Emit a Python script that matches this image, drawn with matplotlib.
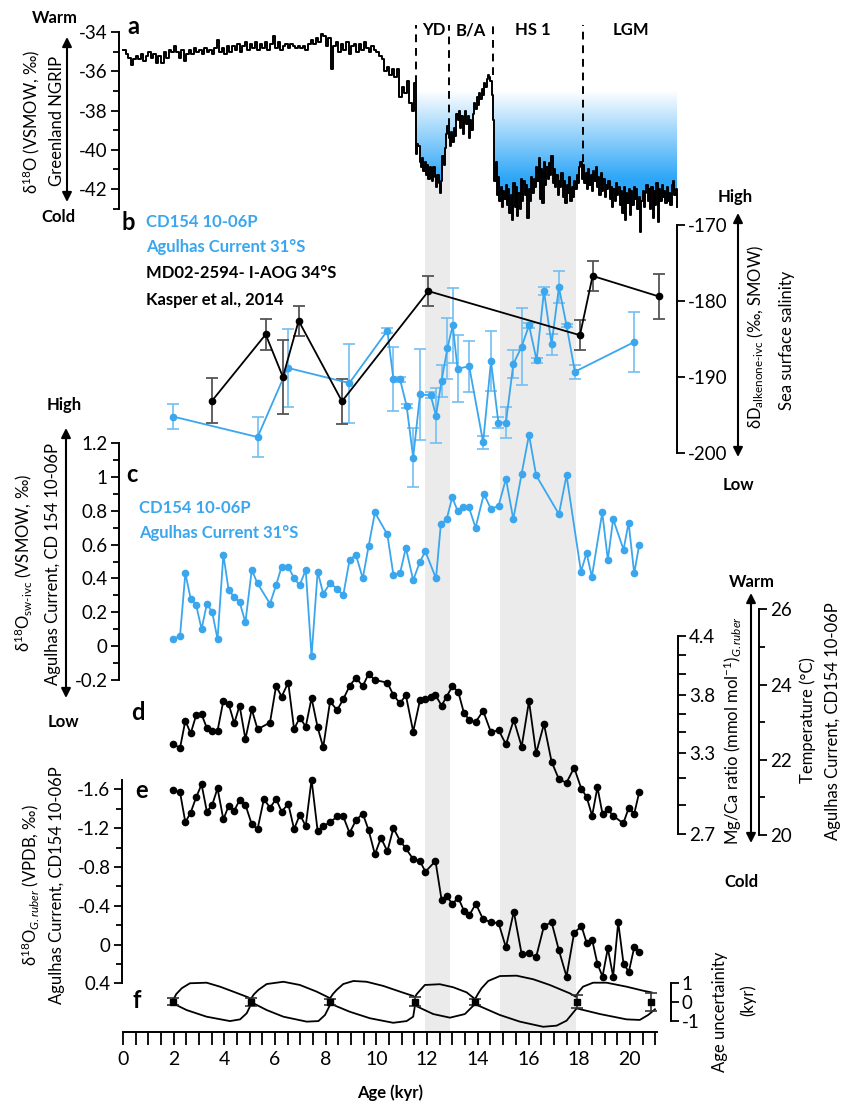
import numpy as np
import matplotlib
matplotlib.use("Agg")
import matplotlib.pyplot as plt
from matplotlib.colors import LinearSegmentedColormap
from matplotlib.patches import FancyArrowPatch
from matplotlib.ticker import FixedLocator, FuncFormatter, MultipleLocator

plt.rcParams['font.family'] = ['Lato', 'DejaVu Sans']
plt.rcParams['mathtext.fontset'] = 'custom'
plt.rcParams['mathtext.rm'] = 'Lato'
plt.rcParams['mathtext.it'] = 'Lato:italic'
plt.rcParams['mathtext.bf'] = 'Lato:bold'
plt.rcParams['axes.unicode_minus'] = False
plt.rcParams['font.size'] = 12

BLUE = '#3aa6ee'
BLUE_ERR = '#72bff2'
GREY = '#ebebeb'

# ---------------- data ----------------
# (a) NGRIP d18O, 0-11.5 kyr every 0.1 kyr, then 11.55-21.85 kyr every 0.05 kyr
ngrip_early = [
    -34.9, -35.1, -35.3, -35.7, -35.4, -35.2, -35.4, -35.1, -35.5, -35.2,
    -35.0, -35.3, -35.1, -35.6, -35.2, -35.6, -35.0, -35.3, -34.9, -35.0,
    -34.7, -35.0, -35.3, -34.9, -35.5, -35.1, -34.9, -35.1, -34.8, -35.0,
    -34.9, -35.1, -34.8, -35.0, -34.9, -35.1, -34.8, -34.4, -35.0, -34.8,
    -35.1, -34.7, -35.0, -34.7, -34.9, -34.6, -35.0, -34.7, -34.5, -34.9,
    -34.6, -34.8, -34.5, -34.9, -34.6, -34.8, -34.5, -34.9, -34.6, -34.2,
    -34.8, -34.5, -34.9, -34.7, -34.6, -34.8, -34.6, -34.7, -34.8, -34.7,
    -34.8, -34.7, -34.9, -34.6, -34.4, -34.6, -34.3, -34.5, -34.1, -34.2,
    -34.7, -34.3, -35.9, -34.7, -34.5, -35.0, -34.6, -34.9, -34.5, -35.1,
    -34.7, -34.6, -35.0, -34.6, -34.9, -34.5, -34.8, -35.0, -34.7, -34.9,
    -35.0, -35.2, -35.4, -36.0, -35.8, -36.2, -35.9, -36.3, -35.9, -37.3,
    -36.8, -37.1, -36.5, -37.6, -38.0, -36.6]
ngrip_late = [
    # Younger Dryas
    -40.2, -39.7, -39.8, -40.6, -40.9, -40.4, -41.1, -40.6, -41.3, -40.8,
    -41.5, -40.9, -41.2, -41.6, -40.9, -41.4, -41.9, -41.3, -41.7, -42.2,
    -41.6, -40.3, -40.8, -39.9, -39.2, -38.8,
    # Bolling/Allerod
    -39.4, -39.8, -39.1, -39.6, -38.9, -39.3, -38.2, -38.5, -38.0, -38.9,
    -38.3, -39.2, -38.4, -38.0, -38.7, -38.3, -39.4, -38.5, -39.0, -38.2,
    -37.6, -37.9, -37.3, -37.7, -37.1, -37.4, -36.9, -37.2, -36.6, -36.8,
    -36.4, -36.2, -36.3, -36.5, -37.2, -38.5, -41.6,
    # HS1 and LGM
    -40.6, -42.3, -41.4, -42.6, -41.9, -42.9, -42.1, -42.5, -41.8, -42.8,
    -42.0, -43.2, -42.3, -43.6, -41.7, -42.9, -41.9, -43.4, -42.2, -43.0,
    -41.5, -42.6, -41.6, -42.3, -41.8, -43.5, -42.0, -42.6, -41.4, -42.2,
    -41.5, -41.9, -40.9, -41.6, -40.4, -42.5, -41.0, -42.7, -40.6, -41.8,
    -40.9, -41.5, -40.7, -41.3, -40.3, -41.7, -41.0, -41.9, -41.3, -42.3,
    -41.6, -41.9, -41.2, -42.4, -41.6, -42.7, -41.8, -42.2, -41.4, -42.6,
    -41.9, -42.4, -41.6, -42.0, -41.3, -41.7, -40.9, -40.6, -41.5, -40.8,
    -41.7, -41.2, -42.0, -41.0, -41.8, -41.3, -42.1, -41.1, -41.6, -40.9,
    -41.9, -41.4, -42.3, -41.2, -42.1, -41.5, -42.4, -41.8, -42.0, -41.6,
    -42.5, -41.9, -42.9, -42.0, -42.6, -41.7, -42.3, -41.9, -42.8, -42.1,
    -43.2, -41.9, -43.6, -42.2, -42.7, -42.0, -43.3, -42.1, -42.8, -41.9,
    -42.5, -42.0, -43.0, -42.4, -44.2, -42.6, -42.1, -42.9, -42.2, -41.8,
    -42.6, -42.0, -43.0, -41.9, -43.5, -42.1, -42.8, -41.7, -43.7, -42.0,
    -42.6, -41.8, -42.4, -42.1, -42.7, -41.9, -42.6, -42.2, -42.8, -41.8,
    -41.6, -42.3, -42.0, -42.9]
ngrip_age = np.concatenate([np.arange(len(ngrip_early)) * 0.1,
                            11.55 + np.arange(len(ngrip_late)) * 0.05])
ngrip_val = np.array(ngrip_early + ngrip_late)

period_bounds = [11.56, 12.86, 14.6, 18.15]
period_names = ['YD', 'B/A', 'HS 1', 'LGM']
period_label_x = [12.27, 13.73, 16.17, 20.04]
band_start = [11.9, 14.87]
band_end = [12.9, 17.87]

# (b) dD alkenone
kasper_age = [3.52, 5.63, 6.31, 6.93, 8.64, 12.05, 18.03, 18.53, 21.14]
kasper_dd = [-193.1, -184.4, -190.0, -182.6, -193.2, -178.7, -184.5, -176.7, -179.4]
kasper_err = [3.0, 2.0, 4.9, 2.0, 3.0, 2.0, 2.0, 2.0, 3.0]

cd_dd_age = [1.97, 5.31, 6.50, 8.93, 10.43, 10.67, 10.93, 11.19, 11.45, 11.72,
             12.14, 12.35, 12.57, 12.80, 13.01, 13.20, 13.66, 14.21, 14.52, 14.81,
             15.11, 15.40, 15.73, 16.02, 16.32, 16.61, 16.91, 17.20, 17.50, 17.83,
             20.17]
cd_dd = [-195.2, -197.9, -188.8, -190.8, -183.9, -190.3, -190.3, -193.8, -200.6, -192.3,
         -192.4, -195.1, -190.5, -186.2, -183.2, -188.9, -188.6, -198.6, -187.9, -196.0,
         -196.0, -188.3, -186.0, -183.2, -187.8, -178.7, -185.7, -178.2, -183.2, -189.3,
         -185.4]
cd_dd_err = [1.7, 2.6, 5.1, 5.2, 0.3, 4.2, 0.3, 0.3, 3.9, 6.0,
             0.4, 3.6, 2.1, 4.0, 4.9, 4.4, 3.4, 0.9, 3.9, 0.7,
             2.0, 1.8, 5.1, 0.3, 0.35, 0.55, 1.4, 2.1, 0.2, 0.9,
             4.0]

# (c) d18O seawater
c_age = [1.98, 2.25, 2.46, 2.67, 2.89, 3.10, 3.31, 3.52, 3.73, 3.96,
         4.17, 4.39, 4.60, 4.83, 5.08, 5.31, 5.80, 6.04, 6.26, 6.52,
         6.75, 6.97, 7.21, 7.44, 7.68, 7.90, 8.17, 8.45, 8.69, 8.94,
         9.19, 9.46, 9.69, 9.94, 10.43, 10.67, 10.93, 11.16, 11.45, 11.72,
         11.93, 12.35, 12.54, 12.77, 12.99, 13.20, 13.42, 13.65, 13.91, 14.24,
         14.52, 14.82, 15.11, 15.40, 15.73, 16.02, 16.30, 17.20, 17.50, 18.07,
         18.29, 18.50, 18.91, 19.13, 19.34, 19.75, 19.95, 20.17, 20.37]
c_val = [0.04, 0.06, 0.43, 0.28, 0.24, 0.10, 0.25, 0.20, 0.04, 0.54,
         0.33, 0.29, 0.26, 0.14, 0.45, 0.37, 0.25, 0.36, 0.47, 0.47,
         0.40, 0.36, 0.45, -0.06, 0.44, 0.31, 0.37, 0.34, 0.30, 0.51,
         0.54, 0.40, 0.59, 0.79, 0.66, 0.42, 0.43, 0.58, 0.39, 0.50,
         0.56, 0.40, 0.72, 0.75, 0.88, 0.80, 0.82, 0.82, 0.70, 0.90,
         0.81, 0.83, 0.99, 0.75, 1.02, 1.25, 1.01, 0.78, 1.01, 0.44,
         0.55, 0.41, 0.79, 0.51, 0.75, 0.57, 0.73, 0.43, 0.60]

# (d) Mg/Ca temperature
d_age = [1.98, 2.25, 2.46, 2.67, 2.89, 3.10, 3.31, 3.52, 3.73, 3.96,
         4.17, 4.39, 4.60, 4.83, 5.08, 5.31, 5.80, 6.04, 6.26, 6.52,
         6.75, 6.98, 7.21, 7.44, 7.68, 7.90, 8.17, 8.45, 8.69, 8.94,
         9.19, 9.46, 9.69, 9.94, 10.43, 10.67, 10.93, 11.16, 11.45, 11.72,
         11.93, 12.14, 12.33, 12.57, 12.77, 13.00, 13.23, 13.45, 13.66, 13.91,
         14.21, 14.52, 14.82, 15.11, 15.42, 15.73, 16.02, 16.30, 16.61, 16.91,
         17.20, 17.50, 17.80, 18.09, 18.29, 18.51, 18.72, 18.92, 19.13, 19.34,
         19.74, 19.96, 20.17, 20.37]
d_temp = [22.42, 22.31, 23.04, 22.70, 23.19, 23.21, 22.84, 22.77, 22.77, 23.57,
          23.48, 22.97, 23.44, 22.55, 23.34, 22.81, 22.99, 23.96, 23.68, 24.05,
          22.82, 23.12, 22.88, 23.64, 22.86, 22.33, 23.55, 23.32, 23.61, 23.96,
          24.18, 23.96, 24.28, 24.12, 24.05, 23.72, 23.50, 23.72, 22.75, 23.59,
          23.61, 23.68, 23.72, 23.44, 23.68, 23.96, 23.80, 23.25, 23.06, 23.00,
          23.30, 22.73, 22.79, 22.41, 23.06, 22.35, 23.56, 22.17, 22.95, 21.95,
          21.48, 21.39, 21.79, 21.22, 21.02, 20.51, 21.27, 20.56, 20.68, 20.51,
          20.31, 20.73, 20.56, 21.14]

# (e) d18O G. ruber
e_age = [1.98, 2.25, 2.46, 2.67, 2.89, 3.10, 3.31, 3.52, 3.73, 3.96,
         4.17, 4.39, 4.60, 4.83, 5.08, 5.31, 5.56, 5.80, 6.04, 6.26,
         6.52, 6.75, 6.98, 7.21, 7.44, 7.68, 7.90, 8.17, 8.45, 8.69,
         8.94, 9.19, 9.46, 9.69, 9.94, 10.18, 10.43, 10.67, 10.93, 11.16,
         11.45, 11.72, 11.93, 12.33, 12.57, 12.77, 12.99, 13.23, 13.45, 13.66,
         13.92, 14.21, 14.52, 14.82, 15.11, 15.42, 15.73, 16.02, 16.30, 16.61,
         16.91, 17.20, 17.50, 17.80, 18.09, 18.29, 18.51, 18.72, 18.92, 19.13,
         19.34, 19.54, 19.75, 19.96, 20.17, 20.37]
e_val = [-1.59, -1.57, -1.26, -1.36, -1.52, -1.65, -1.37, -1.44, -1.61, -1.29,
         -1.43, -1.38, -1.49, -1.44, -1.24, -1.19, -1.50, -1.41, -1.50, -1.37,
         -1.45, -1.19, -1.34, -1.22, -1.70, -1.17, -1.22, -1.26, -1.32, -1.32,
         -1.15, -1.28, -1.35, -1.18, -0.93, -1.10, -0.96, -1.20, -1.07, -0.99,
         -0.88, -0.86, -0.75, -0.86, -0.46, -0.50, -0.42, -0.48, -0.35, -0.30,
         -0.42, -0.26, -0.23, -0.22, 0.03, -0.34, 0.10, 0.09, 0.13, -0.19,
         -0.23, 0.06, 0.33, -0.12, -0.19, -0.02, -0.05, 0.20, 0.33, 0.04,
         0.33, -0.23, 0.20, 0.28, 0.03, 0.08]

# (f) age model tie points and uncertainty envelope
f_age = [1.96, 5.04, 8.17, 11.52, 13.89, 17.90, 20.85]
f_err = [0.17, 0.22, 0.16, 0.24, 0.16, 0.35, 0.47]
env_up_age = [1.96, 2.10, 2.32, 2.64, 3.30, 3.83, 4.35, 4.94, 5.04, 5.16, 5.34, 5.67,
              6.33, 6.98, 7.64, 8.10, 8.17, 8.28, 8.43, 8.69, 9.09, 9.61, 10.27,
              10.93, 11.45, 11.52, 11.59, 11.91, 12.50, 13.03, 13.56, 13.85, 13.89,
              14.00, 14.15, 14.41, 14.87, 15.53, 16.19, 16.84, 17.63, 17.87, 17.90,
              18.00, 18.15, 18.55, 19.08, 19.87, 20.52, 20.85]
env_up = [0.04, 0.40, 0.71, 0.97, 1.00, 0.79, 0.53, 0.23, 0.13, 0.38, 0.62, 0.93,
          1.05, 0.88, 0.53, 0.23, 0.18, 0.40, 0.62, 0.93, 1.09, 1.05, 0.83,
          0.53, 0.30, 0.24, 0.40, 0.88, 0.92, 0.76, 0.49, 0.18, 0.13,
          0.40, 0.71, 1.09, 1.35, 1.37, 1.18, 0.88, 0.44, 0.26, 0.36,
          0.55, 0.79, 1.00, 1.00, 0.79, 0.58, 0.49]
env_lo_age = [1.96, 2.51, 3.30, 4.22, 4.62, 4.88, 5.04, 5.14, 5.67, 6.33, 7.25, 7.71,
              7.97, 8.17, 8.30, 8.95, 9.74, 10.66, 11.19, 11.45, 11.52, 12.24, 12.90,
              13.49, 13.89, 13.96, 14.87, 15.66, 16.58, 17.11, 17.50, 17.90, 18.82,
              19.87, 20.39, 20.72, 20.99]
env_lo = [-0.08, -0.44, -0.79, -1.02, -0.93, -0.61, -0.17, -0.08, -0.44, -0.79, -1.05, -1.02,
          -0.70, -0.17, -0.17, -0.53, -0.87, -1.11, -1.02, -0.79, -0.20, -0.65, -0.84,
          -0.65, -0.12, -0.17, -0.70, -1.05, -1.32, -1.26, -1.00, -0.35, -0.65,
          -0.93, -0.96, -0.70, -0.40]

# ---------------- layout helpers (pixel based) ----------------
W, H = 845, 1105
X0, X1, XMAX = 123, 657, 21.07

fig = plt.figure(figsize=(W / 100, H / 100), dpi=100)


def fx(x):
    return x / W


def fy(y):
    return 1 - y / H


def panel(top, bottom, right=X1):
    xmax = XMAX * (right - X0) / (X1 - X0)
    ax = fig.add_axes([fx(X0), fy(bottom), (right - X0) / W, (bottom - top) / H])
    ax.set_xlim(0, xmax)
    ax.patch.set_visible(False)
    for s in ax.spines.values():
        s.set_visible(False)
    ax.tick_params(axis='x', which='both', bottom=False, labelbottom=False)
    ax.tick_params(axis='y', which='both', left=False, labelleft=False)
    return ax


def fit_y(ax, top, bottom, v1, p1, v2, p2):
    k = (v2 - v1) / (p2 - p1)
    ax.set_ylim(v1 + (bottom - p1) * k, v1 + (top - p1) * k)


def style_y(ax, side, pos, bounds, major, minor):
    sp = ax.spines[side]
    sp.set_visible(True)
    sp.set_position(pos)
    sp.set_bounds(*bounds)
    sp.set_linewidth(1.4)
    ax.yaxis.set_ticks_position(side)
    ax.yaxis.set_major_locator(FixedLocator(major))
    ax.yaxis.set_minor_locator(FixedLocator(minor))
    ax.yaxis.set_major_formatter(FuncFormatter(lambda v, p: f'{v:g}'))
    ax.tick_params(axis='y', which='both', direction='out', width=1.3,
                   labelsize=13.5, pad=2, **{side: True, 'label' + side: True})
    ax.tick_params(axis='y', which='major', length=6)
    ax.tick_params(axis='y', which='minor', length=4)


def ftext(x, y, s, **kw):
    kw.setdefault('ha', 'center')
    kw.setdefault('va', 'center')
    fig.text(fx(x), fy(y), s, **kw)


def farrow(x, y0, y1):
    fig.add_artist(FancyArrowPatch((fx(x), fy(y0)), (fx(x), fy(y1)),
                                   transform=fig.transFigure, arrowstyle='<|-|>',
                                   mutation_scale=14, lw=1.5, color='k',
                                   shrinkA=0, shrinkB=0))


def no_clip(ax):
    for art in ax.lines + list(ax.collections):
        art.set_clip_on(False)


# ---------------- grey bands (YD and HS1) ----------------
ax_bg = panel(0, 1032)
ax_bg.set_ylim(0, 1)
for s, e in zip(band_start, band_end):
    ax_bg.axvspan(s, e, ymin=0, ymax=(1032 - 120) / 1032, color=GREY, lw=0)

# ---------------- (a) NGRIP ----------------
ax_a = panel(20, 240, right=680)
xmax_a = ax_a.get_xlim()[1]
late = ngrip_age >= 11.55
xa, ya = ngrip_age[late], ngrip_val[late]
clip_poly = ax_a.fill_between(xa, np.minimum(ya, -37), -37, step='post',
                              facecolor='none', edgecolor='none')
fill_cmap = LinearSegmentedColormap.from_list('fill', ['#ffffff', '#2ea6f7'])
level = np.linspace(-37, -44.6, 300)
shade = np.clip((-37 - level) / 4.5, 0, 1).reshape(-1, 1)
im = ax_a.imshow(shade, extent=[xa[0], xa[-1], -44.6, -37], origin='upper',
                 aspect='auto', cmap=fill_cmap, vmin=0, vmax=1, zorder=1)
im.set_clip_path(clip_poly.get_paths()[0], transform=ax_a.transData)
ax_a.plot(ngrip_age, ngrip_val, drawstyle='steps-post', color='k', lw=1.4,
          zorder=3, clip_on=False)
ax_a.set_xlim(0, xmax_a)
fit_y(ax_a, 20, 240, -34, 32, -42, 189)
for b in period_bounds:
    win = (ngrip_age > b - 0.25) & (ngrip_age <= b)
    ax_a.plot([b, b], [ngrip_val[win].max(), -33.64], color='k', lw=1.4,
              ls=(0, (4, 3)), zorder=4)
for x, name in zip(period_label_x, period_names):
    ax_a.text(x, -33.9, name, ha='center', va='center', fontweight='bold', fontsize=12)
style_y(ax_a, 'left', ('outward', 3), (-43, -34),
        [-42, -40, -38, -36, -34], [-43, -41, -39, -37, -35])

# ---------------- (b) dD alkenone ----------------
ax_b = panel(205, 495)
ax_b.errorbar(cd_dd_age, cd_dd, yerr=cd_dd_err, fmt='-o', color=BLUE, ms=4.5, lw=1.3,
              ecolor=BLUE_ERR, elinewidth=1.2, capsize=4, capthick=1.2)
ax_b.errorbar(kasper_age, kasper_dd, yerr=kasper_err, fmt='-o', color='k', ms=4.5, lw=1.3,
              ecolor='#555555', elinewidth=1.3, capsize=4, capthick=1.3)
no_clip(ax_b)
fit_y(ax_b, 205, 495, -170, 225, -200, 453)
style_y(ax_b, 'right', ('axes', (677 - X0) / (X1 - X0)), (-200, -170),
        [-200, -190, -180, -170], [])

# ---------------- (c) d18O sw ----------------
ax_c = panel(420, 700)
ax_c.plot(c_age, c_val, '-o', color=BLUE, ms=4.5, lw=1.3, clip_on=False)
fit_y(ax_c, 420, 700, 0, 646, 1.2, 443.2)
style_y(ax_c, 'left', ('outward', 3), (-0.2, 1.2),
        [-0.2, 0, 0.2, 0.4, 0.6, 0.8, 1.0, 1.2],
        [-0.1, 0.1, 0.3, 0.5, 0.7, 0.9, 1.1])

# ---------------- (d) Mg/Ca temperature ----------------
ax_d = panel(585, 860)
ax_d.plot(d_age, d_temp, '-o', color='k', ms=4.5, lw=1.3, clip_on=False)
fit_y(ax_d, 585, 860, 20, 835, 26, 609.3)
style_y(ax_d, 'right', ('axes', (759 - X0) / (X1 - X0)), (20, 26),
        [20, 22, 24, 26], [21, 23, 25])


def temp_to_mgca(t):
    return 0.4237 * np.exp(0.0925 * np.asarray(t))


def mgca_to_temp(m):
    return np.log(np.clip(np.asarray(m), 1e-6, None) / 0.4237) / 0.0925


sec = ax_d.secondary_yaxis((678 - X0) / (X1 - X0), functions=(temp_to_mgca, mgca_to_temp))
sec.yaxis.set_major_locator(FixedLocator([2.7, 3.3, 3.8, 4.4]))
sec.yaxis.set_minor_locator(FixedLocator([2.9, 3.1, 3.47, 3.63, 4.0, 4.2]))
sec.yaxis.set_major_formatter(FuncFormatter(lambda v, p: f'{v:g}'))
sec.spines['right'].set_bounds(2.7, 4.4)
sec.spines['right'].set_linewidth(1.4)
sec.tick_params(axis='y', which='both', direction='out', width=1.3, labelsize=13.5, pad=2)
sec.tick_params(axis='y', which='major', length=6)
sec.tick_params(axis='y', which='minor', length=6)

# ---------------- (e) d18O G. ruber ----------------
ax_e = panel(770, 990)
ax_e.plot(e_age, e_val, '-o', color='k', ms=4.5, lw=1.3, clip_on=False)
fit_y(ax_e, 770, 990, -1.6, 789.3, 0.4, 983.3)
style_y(ax_e, 'left', ('outward', 1), (-1.7, 0.4),
        [-1.6, -1.2, -0.8, -0.4, 0, 0.4], [-1.4, -1.0, -0.6, -0.2, 0.2])

# ---------------- (f) age uncertainty + x axis ----------------
ax_f = panel(965, 1032)
ax_f.plot(env_up_age, env_up, color='k', lw=1.3, clip_on=False)
ax_f.plot(env_lo_age, env_lo, color='k', lw=1.3, clip_on=False)
ax_f.errorbar(f_age, np.zeros(len(f_age)), yerr=f_err, fmt='s', color='k', ms=4.5,
              ecolor='#333333', elinewidth=1.2, capsize=4, capthick=1.2)
no_clip(ax_f)
fit_y(ax_f, 965, 1032, 0, 1001.7, 1, 982.7)
style_y(ax_f, 'right', ('axes', (670.7 - X0) / (X1 - X0)), (-1, 1), [-1, 0, 1], [])
ax_f.spines['bottom'].set_visible(True)
ax_f.spines['bottom'].set_linewidth(1.4)
ax_f.xaxis.set_major_locator(MultipleLocator(2))
ax_f.xaxis.set_minor_locator(MultipleLocator(0.5))
ax_f.tick_params(axis='x', which='both', bottom=True, labelbottom=True, direction='out',
                 length=9, width=1.3, labelsize=14, pad=5)

# ---------------- texts and arrows ----------------
bold = dict(fontweight='bold', fontsize=12)
ftext(55, 18, 'Warm', **bold)
ftext(58, 217, 'Cold', **bold)
farrow(67, 37, 202)
ftext(31, 122, 'δ$^{18}$O (VSMOW, ‰)', rotation=90, fontsize=12)
ftext(57, 121, 'Greenland NGRIP', rotation=90, fontsize=12)

ftext(735, 197, 'High', **bold)
ftext(738, 485, 'Low', **bold)
farrow(738, 213, 457)
ftext(756, 337, 'δD$_{\\mathrm{alkenone}\\text{-}\\mathrm{ivc}}$ (‰, SMOW)', rotation=90, fontsize=12)
ftext(787, 340, 'Sea surface salinity', rotation=90, fontsize=12)

ftext(146, 222, 'CD154 10-06P', ha='left', color=BLUE, **bold)
ftext(146, 247, 'Agulhas Current 31°S', ha='left', color=BLUE, **bold)
ftext(146, 273, 'MD02-2594- I-AOG 34°S', ha='left', **bold)
ftext(146, 300, 'Kasper et al., 2014', ha='left', **bold)

ftext(64, 405, 'High', **bold)
ftext(63, 722, 'Low', **bold)
farrow(66, 428, 698)
ftext(23, 563, 'δ$^{18}$O$_{\\mathrm{sw}\\text{-}\\mathrm{ivc}}$ (VSMOW, ‰)', rotation=90, fontsize=12)
ftext(53, 564, 'Agulhas Current, CD 154 10-06P', rotation=90, fontsize=12)
ftext(139, 508, 'CD154 10-06P', ha='left', color=BLUE, **bold)
ftext(139, 533, 'Agulhas Current 31°S', ha='left', color=BLUE, **bold)

ftext(752, 582, 'Warm', **bold)
ftext(741, 882, 'Cold', **bold)
farrow(751, 593, 843)
ftext(733, 731, 'Mg/Ca ratio (mmol mol$^{-1}$)$_{\\mathit{G.ruber}}$', rotation=90, fontsize=12)
ftext(808, 720, 'Temperature (°C)', rotation=90, fontsize=12)
ftext(833, 721, 'Agulhas Current, CD154 10-06P', rotation=90, fontsize=12)

ftext(30, 885, 'δ$^{18}$O$_{\\mathit{G.ruber}}$ (VPDB, ‰)', rotation=90, fontsize=12)
ftext(57, 885, 'Agulhas Current, CD154 10-06P', rotation=90, fontsize=12)

ftext(720, 1012, 'Age uncertainity', rotation=90, fontsize=12)
ftext(748, 1000, '(kyr)', rotation=90, fontsize=12)
ftext(390, 1093, 'Age (kyr)', **bold)

for x, y, s in [(133, 26, 'a'), (128, 223, 'b'), (132, 475, 'c'),
                (138, 713, 'd'), (142, 790, 'e'), (137, 1001, 'f')]:
    ftext(x, y, s, fontweight='bold', fontsize=17)

fig.savefig('out.png', dpi=100)
